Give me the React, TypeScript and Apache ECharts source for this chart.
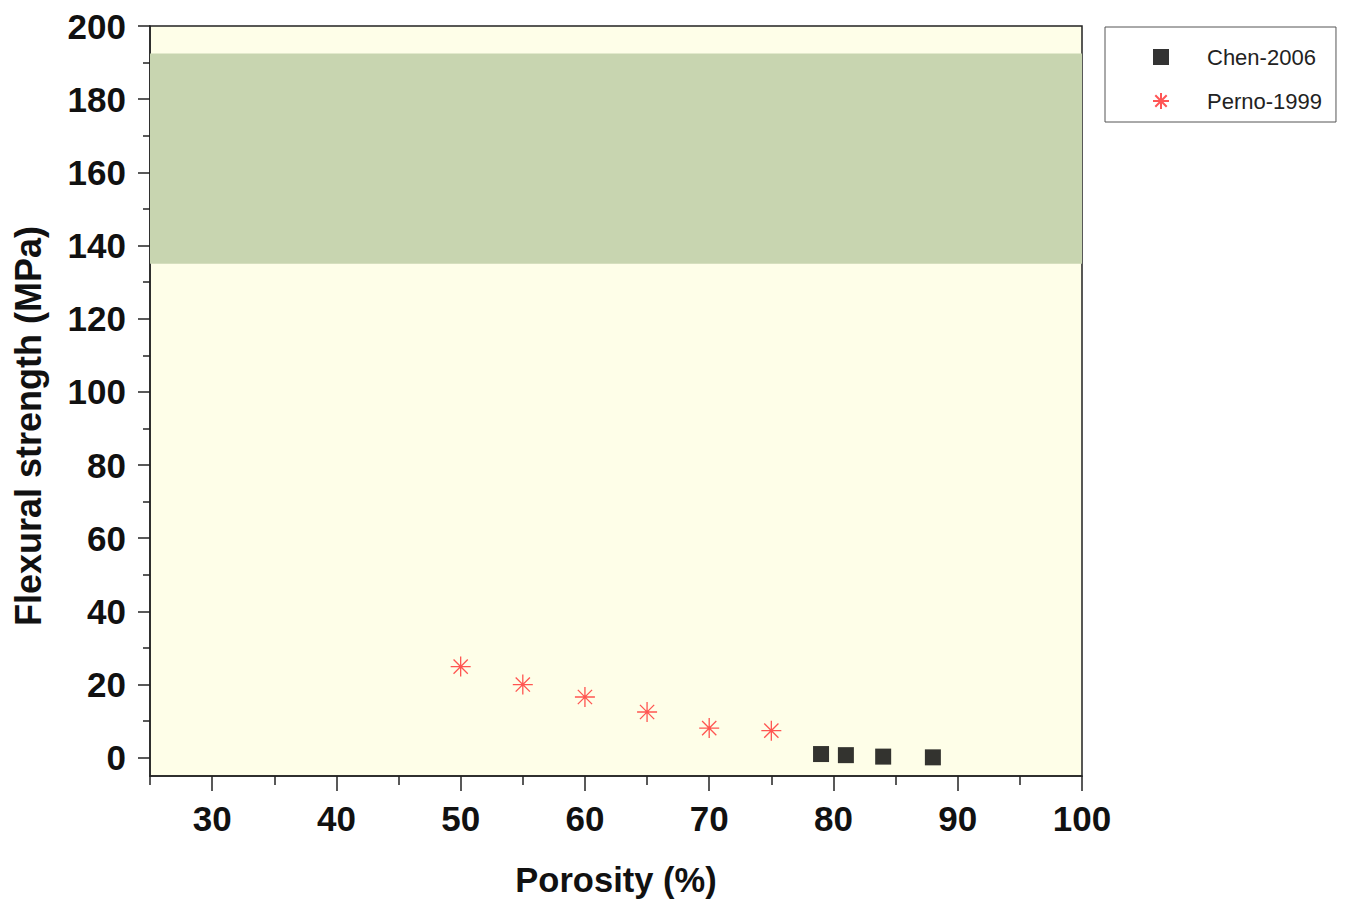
import React, { useEffect, useRef } from "react";
import * as echarts from "echarts";

const chenX = [79, 81, 84, 88];
const chenY = [1.0, 0.7, 0.3, 0.1];
const pernoX = [50, 55, 60, 65, 70, 75];
const pernoY = [24.9, 20.0, 16.6, 12.5, 8.1, 7.4];
const bandRange = [135, 192.5];
const yTicks = [0, 20, 40, 60, 80, 100, 120, 140, 160, 180, 200];
const yMinorTicks = [10, 30, 50, 70, 90, 110, 130, 150, 170, 190];
const xTicks = [30, 40, 50, 60, 70, 80, 90, 100];
const xMinorTicks = [25, 35, 45, 55, 65, 75, 85, 95];

const FONT = "Liberation Sans, Arial, sans-serif";
const ASTERISK =
  "path://M0,9 L18,9 M9,0 L9,18 M2.6,2.6 L15.4,15.4 M15.4,2.6 L2.6,15.4";

export default function App() {
  const ref = useRef<HTMLDivElement>(null);
  useEffect(() => {
    if (!ref.current) return;
    const chart = echarts.init(ref.current, undefined, { renderer: "svg" });
    const axisLine = { onZero: false, lineStyle: { color: "#222", width: 1.5 } };
    const tickLabel = {
      fontSize: 35,
      fontWeight: "bold" as const,
      color: "#111",
      fontFamily: FONT,
    };
    chart.setOption({
      animation: false,
      backgroundColor: "#ffffff",
      grid: {
        left: 150,
        top: 26,
        right: 265,
        bottom: 130,
        show: true,
        backgroundColor: "#FEFEE8",
        borderColor: "#222",
        borderWidth: 1.5,
        containLabel: false,
      },
      legend: {
        orient: "vertical",
        left: 1105,
        top: 27,
        padding: [19, 14, 10, 47],
        itemWidth: 16,
        itemHeight: 16,
        itemGap: 22,
        borderColor: "#555",
        borderWidth: 1,
        backgroundColor: "#fff",
        textStyle: {
          fontSize: 22,
          color: "#222",
          fontFamily: FONT,
          padding: [0, 0, 0, 33],
        },
        data: ["Chen-2006", "Perno-1999"],
      },
      xAxis: [
        {
          type: "value",
          min: 25,
          max: 100,
          splitLine: { show: false },
          axisLine,
          axisTick: {
            show: true,
            inside: false,
            length: 15,
            customValues: xTicks,
            lineStyle: { color: "#222", width: 1.5 },
          },
          axisLabel: { ...tickLabel, margin: 25, customValues: xTicks },
        },
        {
          type: "value",
          min: 25,
          max: 100,
          position: "bottom",
          splitLine: { show: false },
          axisLine: { show: false, onZero: false },
          axisTick: {
            show: true,
            inside: false,
            length: 9,
            customValues: xMinorTicks,
            lineStyle: { color: "#222", width: 1.5 },
          },
          axisLabel: { show: false },
        },
      ],
      yAxis: [
        {
          type: "value",
          min: -5,
          max: 200,
          splitLine: { show: false },
          axisLine,
          axisTick: {
            show: true,
            inside: false,
            length: 12,
            customValues: yTicks,
            lineStyle: { color: "#222", width: 1.5 },
          },
          axisLabel: { ...tickLabel, margin: 24, customValues: yTicks },
        },
        {
          type: "value",
          min: -5,
          max: 200,
          position: "left",
          splitLine: { show: false },
          axisLine: { show: false, onZero: false },
          axisTick: {
            show: true,
            inside: false,
            length: 7,
            customValues: yMinorTicks,
            lineStyle: { color: "#222", width: 1.5 },
          },
          axisLabel: { show: false },
        },
      ],
      graphic: [
        {
          type: "text",
          x: 616,
          y: 880,
          style: {
            text: "Porosity (%)",
            fontSize: 34.5,
            fontWeight: "bold",
            fontFamily: FONT,
            fill: "#111",
            align: "center",
            verticalAlign: "middle",
          },
        },
        {
          type: "text",
          x: 28,
          y: 426,
          rotation: Math.PI / 2,
          style: {
            text: "Flexural strength (MPa)",
            fontSize: 36,
            fontWeight: "bold",
            fontFamily: FONT,
            fill: "#111",
            align: "center",
            verticalAlign: "middle",
          },
        },
      ],
      series: [
        {
          name: "Chen-2006",
          type: "scatter",
          xAxisIndex: 0,
          yAxisIndex: 0,
          symbol: "rect",
          symbolSize: 16,
          itemStyle: { color: "#000" },
          data: chenX.map((x, i) => [x, chenY[i]]),
          z: 5,
          markArea: {
            silent: true,
            itemStyle: { color: "#C8D5B0" },
            data: [[{ yAxis: bandRange[0] }, { yAxis: bandRange[1] }]],
          },
        },
        {
          name: "Perno-1999",
          type: "scatter",
          xAxisIndex: 0,
          yAxisIndex: 0,
          symbol: ASTERISK,
          symbolSize: 20,
          itemStyle: {
            color: "rgba(0,0,0,0)",
            borderColor: "#FF2A2A",
            borderWidth: 1.3,
          },
          data: pernoX.map((x, i) => [x, pernoY[i]]),
          z: 5,
        },
      ],
    });
    return () => chart.dispose();
  }, []);
  return (
    <div
      ref={ref}
      style={{ position: "fixed", left: 0, top: 0, width: 1347, height: 906 }}
    />
  );
}
